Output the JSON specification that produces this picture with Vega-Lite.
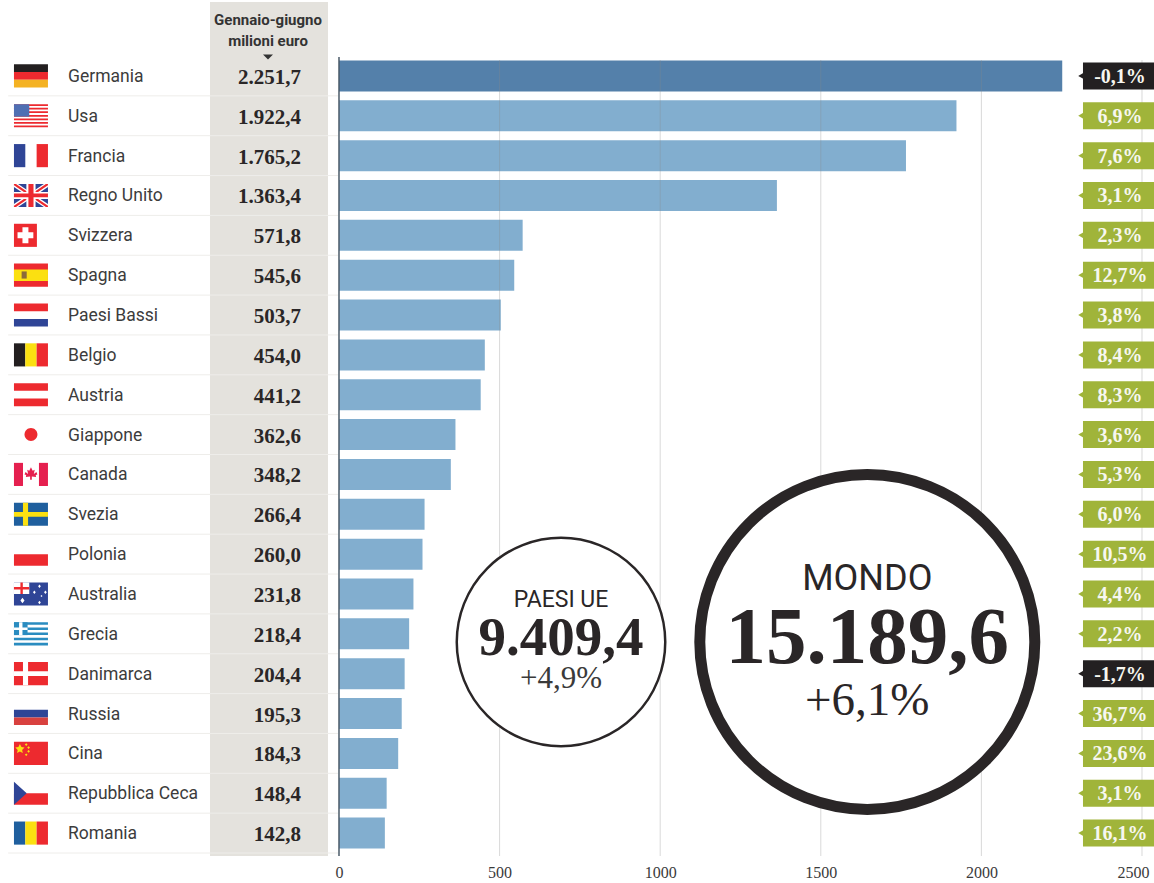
{
  "$schema": "https://vega.github.io/schema/vega-lite/v6.json",
  "width": 1154,
  "height": 856,
  "autosize": {"type": "none"},
  "padding": {"left": 0, "top": 0, "right": 0, "bottom": 27},
  "background": "#ffffff",
  "config": {
    "view": {"stroke": null},
    "locale": {"number": {"decimal": ",", "thousands": ".", "grouping": [3], "currency": ["", " €"], "minus": "-"}}
  },
  "datasets": {
    "countries": [
      {"country": "Germania", "value": 2251.7, "change": -0.001},
      {"country": "Usa", "value": 1922.4, "change": 0.069},
      {"country": "Francia", "value": 1765.2, "change": 0.076},
      {"country": "Regno Unito", "value": 1363.4, "change": 0.031},
      {"country": "Svizzera", "value": 571.8, "change": 0.023},
      {"country": "Spagna", "value": 545.6, "change": 0.127},
      {"country": "Paesi Bassi", "value": 503.7, "change": 0.038},
      {"country": "Belgio", "value": 454.0, "change": 0.084},
      {"country": "Austria", "value": 441.2, "change": 0.083},
      {"country": "Giappone", "value": 362.6, "change": 0.036},
      {"country": "Canada", "value": 348.2, "change": 0.053},
      {"country": "Svezia", "value": 266.4, "change": 0.06},
      {"country": "Polonia", "value": 260.0, "change": 0.105},
      {"country": "Australia", "value": 231.8, "change": 0.044},
      {"country": "Grecia", "value": 218.4, "change": 0.022},
      {"country": "Danimarca", "value": 204.4, "change": -0.017},
      {"country": "Russia", "value": 195.3, "change": 0.367},
      {"country": "Cina", "value": 184.3, "change": 0.236},
      {"country": "Repubblica Ceca", "value": 148.4, "change": 0.031},
      {"country": "Romania", "value": 142.8, "change": 0.161}
    ],
    "totals": [
      {"name": "PAESI UE", "total": 9409.4, "change": 0.049},
      {"name": "MONDO", "total": 15189.6, "change": 0.061}
    ],
    "ticks": [{"tick": 0}, {"tick": 500}, {"tick": 1000}, {"tick": 1500}, {"tick": 2000}, {"tick": 2500}],
    "flags": [
      {"country": "Germania", "part": "top", "tint": "black"},
      {"country": "Germania", "part": "mid", "tint": "red"},
      {"country": "Germania", "part": "bot", "tint": "gold"},
      {"country": "Usa", "part": "stripes13", "tint": "red"},
      {"country": "Usa", "part": "canton", "tint": "usblue"},
      {"country": "Francia", "part": "left", "tint": "navy"},
      {"country": "Francia", "part": "right", "tint": "red"},
      {"country": "Regno Unito", "part": "field", "tint": "navy"},
      {"country": "Regno Unito", "part": "saltire", "tint": "white"},
      {"country": "Regno Unito", "part": "saltirethin", "tint": "red"},
      {"country": "Regno Unito", "part": "cross", "tint": "white"},
      {"country": "Regno Unito", "part": "crossthin", "tint": "red"},
      {"country": "Svizzera", "part": "square", "tint": "red"},
      {"country": "Svizzera", "part": "swisscross", "tint": "white"},
      {"country": "Spagna", "part": "field", "tint": "red"},
      {"country": "Spagna", "part": "band", "tint": "yellow"},
      {"country": "Spagna", "part": "crest", "tint": "brown"},
      {"country": "Paesi Bassi", "part": "top", "tint": "red"},
      {"country": "Paesi Bassi", "part": "bot", "tint": "navy"},
      {"country": "Belgio", "part": "left", "tint": "black"},
      {"country": "Belgio", "part": "centre", "tint": "yellow"},
      {"country": "Belgio", "part": "right", "tint": "red"},
      {"country": "Austria", "part": "top", "tint": "red"},
      {"country": "Austria", "part": "bot", "tint": "red"},
      {"country": "Giappone", "part": "disc", "tint": "red"},
      {"country": "Canada", "part": "barleft", "tint": "crimson"},
      {"country": "Canada", "part": "barright", "tint": "crimson"},
      {"country": "Canada", "part": "leaf", "tint": "crimson"},
      {"country": "Svezia", "part": "field", "tint": "steel"},
      {"country": "Svezia", "part": "nordic", "tint": "yellow"},
      {"country": "Polonia", "part": "lowerhalf", "tint": "red"},
      {"country": "Australia", "part": "field", "tint": "navy"},
      {"country": "Australia", "part": "jackfield", "tint": "white"},
      {"country": "Australia", "part": "jackcross", "tint": "red"},
      {"country": "Australia", "part": "southerncross", "tint": "white"},
      {"country": "Grecia", "part": "stripes9", "tint": "aegean"},
      {"country": "Grecia", "part": "greekcanton", "tint": "aegean"},
      {"country": "Grecia", "part": "greekcross", "tint": "white"},
      {"country": "Danimarca", "part": "field", "tint": "red"},
      {"country": "Danimarca", "part": "nordic", "tint": "white"},
      {"country": "Russia", "part": "mid", "tint": "navy"},
      {"country": "Russia", "part": "bot", "tint": "brick"},
      {"country": "Cina", "part": "field", "tint": "red"},
      {"country": "Cina", "part": "stars", "tint": "yellow"},
      {"country": "Repubblica Ceca", "part": "lowerhalf", "tint": "red"},
      {"country": "Repubblica Ceca", "part": "hoist", "tint": "navy"},
      {"country": "Romania", "part": "left", "tint": "steel"},
      {"country": "Romania", "part": "centre", "tint": "yellow"},
      {"country": "Romania", "part": "right", "tint": "red"}
    ]
  },
  "data": {"name": "countries"},
  "resolve": {"scale": {"y": "independent"}},
  "layer": [
    {
      "data": {"values": [{"column": "Gennaio-giugno"}]},
      "mark": {"type": "rect", "color": "#e4e2dd"},
      "encoding": {
        "x": {"datum": -401.6, "type": "quantitative", "scale": {"domain": [-1055.4, 2537.4], "range": [0, 1154], "nice": false, "zero": false}},
        "x2": {"datum": -34.2},
        "y": {"datum": 0, "type": "quantitative", "scale": {"domain": [0, 1], "range": [856, 2]}, "axis": null},
        "y2": {"datum": 1}
      }
    },
    {
      "encoding": {
        "y": {
          "field": "country", "type": "nominal", "axis": null, "sort": null,
          "scale": {"type": "band", "paddingInner": 0, "paddingOuter": 0, "range": [56, 853], "domain": ["Germania", "Usa", "Francia", "Regno Unito", "Svizzera", "Spagna", "Paesi Bassi", "Belgio", "Austria", "Giappone", "Canada", "Svezia", "Polonia", "Australia", "Grecia", "Danimarca", "Russia", "Cina", "Repubblica Ceca", "Romania"]}
        }
      },
      "layer": [
        {
          "mark": {"type": "rule", "color": "#eeedea", "strokeWidth": 1},
          "encoding": {
            "y": {"field": "country", "type": "nominal", "bandPosition": 1},
            "x": {"datum": -1030},
            "x2": {"datum": -3}
          }
        },
        {
          "mark": {"type": "bar", "height": 31},
          "encoding": {
            "x": {"field": "value", "type": "quantitative", "stack": null},
            "color": {"condition": {"test": "datum.country === 'Germania'", "value": "#5480aa"}, "value": "#82aecf"}
          }
        }
      ]
    },
    {
      "data": {"name": "ticks"},
      "transform": [{"filter": "datum.tick > 0"}],
      "mark": {"type": "rule", "color": "#8a8a8a", "opacity": 0.32, "strokeWidth": 1},
      "encoding": {
        "x": {"field": "tick", "type": "quantitative"},
        "y": {"datum": 0.932, "type": "quantitative", "scale": {"domain": [0, 1], "range": [856, 2]}, "axis": null},
        "y2": {"datum": 0}
      }
    },
    {
      "data": {"name": "ticks"},
      "transform": [{"filter": "datum.tick === 0"}],
      "mark": {"type": "rule", "color": "#4a5a68", "strokeWidth": 1.5},
      "encoding": {
        "x": {
          "field": "tick",
          "type": "quantitative",
          "axis": {
            "values": [0, 500, 1000, 1500, 2000, 2500],
            "format": "d",
            "title": null,
            "grid": false,
            "domain": false,
            "ticks": false,
            "labelFont": "Liberation Serif",
            "labelFontSize": 16,
            "labelColor": "#3a3a3a",
            "labelPadding": 8,
            "labelOffset": {"condition": {"test": "datum.value === 2500", "value": -9}, "value": 0}
          }
        },
        "y": {"datum": 0.9356, "type": "quantitative", "scale": {"domain": [0, 1], "range": [856, 2]}, "axis": null},
        "y2": {"datum": 0}
      }
    },
    {
      "encoding": {
        "y": {
          "field": "country", "type": "nominal", "axis": null, "sort": null,
          "scale": {"type": "band", "paddingInner": 0, "paddingOuter": 0, "range": [56, 853], "domain": ["Germania", "Usa", "Francia", "Regno Unito", "Svizzera", "Spagna", "Paesi Bassi", "Belgio", "Austria", "Giappone", "Canada", "Svezia", "Polonia", "Australia", "Grecia", "Danimarca", "Russia", "Cina", "Repubblica Ceca", "Romania"]}
        }
      },
      "layer": [
        {
          "data": {"name": "flags"},
          "mark": {"type": "point", "filled": true, "opacity": 1, "size": 1156},
          "encoding": {
            "x": {"datum": -959},
            "color": {
              "field": "tint",
              "type": "nominal",
              "legend": null,
              "scale": {
                "domain": ["black", "red", "gold", "usblue", "navy", "white", "yellow", "brown", "crimson", "steel", "aegean", "brick"],
                "range": ["#231f20", "#ed2a2f", "#f4b223", "#4f6fb3", "#2f4596", "#ffffff", "#fbe011", "#8a6a3a", "#e5204f", "#1f5f9e", "#2a8cc0", "#d8413f"]
              }
            },
            "shape": {
              "field": "part",
              "type": "nominal",
              "legend": null,
              "scale": {
                "domain": ["top", "mid", "bot", "left", "centre", "right", "field", "stripes13", "canton", "saltire", "saltirethin", "cross", "crossthin", "square", "swisscross", "band", "crest", "disc", "barleft", "barright", "leaf", "nordic", "lowerhalf", "jackfield", "jackcross", "southerncross", "stripes9", "greekcanton", "greekcross", "stars", "hoist"],
                "range": [
                  "M-1,-.68H1V-.227H-1Z",
                  "M-1,-.227H1V.227H-1Z",
                  "M-1,.227H1V.68H-1Z",
                  "M-1,-.68H-.333V.68H-1Z",
                  "M-.333,-.68H.333V.68H-.333Z",
                  "M.333,-.68H1V.68H.333Z",
                  "M-1,-.68H1V.68H-1Z",
                  "M-1,-.68H1V-.575H-1ZM-1,-.471H1V-.366H-1ZM-1,-.262H1V-.157H-1ZM-1,-.052H1V.052H-1ZM-1,.157H1V.262H-1ZM-1,.366H1V.471H-1ZM-1,.575H1V.68H-1Z",
                  "M-1,-.68H-.1V.05H-1Z",
                  "M-1,-.68H-.76L1,.5V.68H.76L-1,-.5ZM1,-.68V-.5L-.76,.68H-1V.5L.76,-.68Z",
                  "M-1,-.68H-.88L1,.6V.68H.88L-1,-.6ZM1,-.68V-.6L-.88,.68H-1V.6L.88,-.68Z",
                  "M-.27,-.68H.27V-.2H1V.2H.27V.68H-.27V.2H-1V-.2H-.27Z",
                  "M-.15,-.68H.15V-.11H1V.11H.15V.68H-.15V.11H-1V-.11H-.15Z",
                  "M-1,-.68H.35V.68H-1Z",
                  "M-.5,-.47H-.15V-.175H.14V.175H-.15V.47H-.5V.175H-.79V-.175H-.5Z",
                  "M-1,-.34H1V.34H-1Z",
                  "M-.55,-.22H-.25V.2H-.55Z",
                  "M-.38,0A.38,.38 0 1,1 .38,0A.38,.38 0 1,1 -.38,0Z",
                  "M-1,-.68H-.47V.68H-1Z",
                  "M.47,-.68H1V.68H.47Z",
                  "M0,-.42L.1,-.22L.22,-.28L.17,-.02L.32,-.14L.38,0L.28,.03L.3,.15L.05,.12V.32H-.05V.12L-.3,.15L-.28,.03L-.38,0L-.32,-.14L-.17,-.02L-.22,-.28L-.1,-.22Z",
                  "M-.47,-.68H-.17V-.14H1V.14H-.17V.68H-.47V.14H-1V-.14H-.47Z",
                  "M-1,0H1V.68H-1Z",
                  "M-1,-.68H-.1V0H-1Z",
                  "M-.62,-.68H-.48V-.41H-.1V-.27H-.48V0H-.62V-.27H-1V-.41H-.62Z",
                  "M-.5,.22L-.38,.38L-.5,.54L-.62,.38ZM.5,-.55L.58,-.45L.5,-.35L.42,-.45ZM.85,-.2L.93,-.1L.85,0L.77,-.1ZM.2,-.2L.28,-.1L.2,0L.12,-.1ZM.5,.4L.58,.5L.5,.6L.42,.5ZM.62,.06L.68,.12L.62,.18L.56,.12Z",
                  "M-1,-.68H1V-.529H-1ZM-1,-.378H1V-.227H-1ZM-1,-.076H1V.076H-1ZM-1,.227H1V.378H-1ZM-1,.529H1V.68H-1Z",
                  "M-1,-.68H-.2V.076H-1Z",
                  "M-.7,-.68H-.5V-.378H-.2V-.227H-.5V.076H-.7V-.227H-1V-.378H-.7Z",
                  "M-.65,-.55L-.56,-.37L-.38,-.34L-.52,-.2L-.48,-.02L-.65,-.11L-.82,-.02L-.78,-.2L-.92,-.34L-.74,-.37ZM-.28,-.6L-.2,-.52L-.28,-.44L-.36,-.52ZM-.14,-.42L-.06,-.34L-.14,-.26L-.22,-.34ZM-.14,-.2L-.06,-.12L-.14,-.04L-.22,-.12ZM-.28,0L-.2,.08L-.28,.16L-.36,.08Z",
                  "M-1,-.68L-.25,0L-1,.68Z"
                ]
              }
            }
          }
        },
        {
          "mark": {"type": "text", "align": "left", "baseline": "middle", "font": "Roboto", "fontSize": 17.5, "color": "#3c3c3c", "dy": 1},
          "encoding": {"x": {"datum": -843.7}, "text": {"field": "country"}}
        },
        {
          "mark": {"type": "text", "align": "right", "baseline": "middle", "font": "Liberation Serif", "fontWeight": "bold", "fontSize": 21, "color": "#2a2627", "dy": 2},
          "encoding": {"x": {"datum": -118.3}, "text": {"field": "value", "type": "quantitative", "format": ",.1f"}}
        },
        {
          "mark": {"type": "point", "filled": true, "opacity": 1, "size": 40, "shape": "triangle-left"},
          "encoding": {
            "x": {"datum": 2310},
            "color": {"condition": {"test": "datum.change < 0", "value": "#232021"}, "value": "#a0b43a"}
          }
        },
        {
          "mark": {"type": "bar", "height": 27},
          "encoding": {
            "x": {"datum": 2316.3},
            "x2": {"datum": 2537.4},
            "color": {"condition": {"test": "datum.change < 0", "value": "#232021"}, "value": "#a0b43a"}
          }
        },
        {
          "mark": {"type": "text", "align": "center", "baseline": "middle", "font": "Liberation Serif", "fontWeight": "bold", "fontSize": 20, "color": "#f7f7f0", "dy": 1},
          "encoding": {"x": {"datum": 2431.5}, "text": {"field": "change", "type": "quantitative", "format": ".1%"}}
        }
      ]
    },
    {
      "data": {"values": [{"line": "Gennaio-giugno", "pos": 0.979}, {"line": "milioni euro", "pos": 0.9544}]},
      "mark": {"type": "text", "align": "center", "baseline": "middle", "font": "Roboto", "fontWeight": "bold", "fontSize": 15, "color": "#333333"},
      "encoding": {
        "x": {"datum": -221},
        "y": {"field": "pos", "type": "quantitative", "scale": {"domain": [0, 1], "range": [856, 2]}, "axis": null},
        "text": {"field": "line"}
      }
    },
    {
      "data": {"values": [{"marker": "sort"}]},
      "mark": {"type": "point", "filled": true, "opacity": 1, "size": 100, "color": "#333333", "shape": "M-1,-.5H1L0,.5Z"},
      "encoding": {
        "x": {"datum": -221},
        "y": {"datum": 0.9356, "type": "quantitative", "scale": {"domain": [0, 1], "range": [856, 2]}, "axis": null}
      }
    },
    {
      "data": {"name": "totals"},
      "transform": [{"filter": "datum.name === 'PAESI UE'"}],
      "mark": {"type": "circle", "fill": "#ffffff", "stroke": "#2a2627", "strokeWidth": 2.5, "size": 43472, "opacity": 1},
      "encoding": {"x": {"datum": 691.2}, "y": {"datum": 0.2506, "type": "quantitative", "scale": {"domain": [0, 1], "range": [856, 2]}, "axis": null}}
    },
    {
      "data": {"name": "totals"},
      "transform": [{"filter": "datum.name === 'MONDO'"}],
      "mark": {"type": "circle", "fill": "#ffffff", "stroke": "#2a2627", "strokeWidth": 11, "size": 112225, "opacity": 1},
      "encoding": {"x": {"datum": 1644.8}, "y": {"datum": 0.2506, "type": "quantitative", "scale": {"domain": [0, 1], "range": [856, 2]}, "axis": null}}
    },
    {
      "data": {"name": "totals"},
      "transform": [{"filter": "datum.name === 'PAESI UE'"}],
      "mark": {"type": "text", "align": "center", "baseline": "alphabetic", "font": "Roboto", "fontSize": 23, "color": "#2a2627"},
      "encoding": {"x": {"datum": 691.2}, "y": {"datum": 0.2916, "type": "quantitative", "scale": {"domain": [0, 1], "range": [856, 2]}, "axis": null}, "text": {"field": "name"}}
    },
    {
      "data": {"name": "totals"},
      "transform": [{"filter": "datum.name === 'PAESI UE'"}],
      "mark": {"type": "text", "align": "center", "baseline": "alphabetic", "font": "Liberation Serif", "fontWeight": "bold", "fontSize": 55, "color": "#2a2627"},
      "encoding": {"x": {"datum": 691.2}, "y": {"datum": 0.2354, "type": "quantitative", "scale": {"domain": [0, 1], "range": [856, 2]}, "axis": null}, "text": {"field": "total", "type": "quantitative", "format": ",.1f"}}
    },
    {
      "data": {"name": "totals"},
      "transform": [{"filter": "datum.name === 'PAESI UE'"}],
      "mark": {"type": "text", "align": "center", "baseline": "alphabetic", "font": "Liberation Serif", "fontSize": 31, "color": "#3a3a3a"},
      "encoding": {"x": {"datum": 691.2}, "y": {"datum": 0.1967, "type": "quantitative", "scale": {"domain": [0, 1], "range": [856, 2]}, "axis": null}, "text": {"field": "change", "type": "quantitative", "format": "+.1%"}}
    },
    {
      "data": {"name": "totals"},
      "transform": [{"filter": "datum.name === 'MONDO'"}],
      "mark": {"type": "text", "align": "center", "baseline": "alphabetic", "font": "Roboto", "fontSize": 36, "color": "#2a2627"},
      "encoding": {"x": {"datum": 1644.8}, "y": {"datum": 0.3115, "type": "quantitative", "scale": {"domain": [0, 1], "range": [856, 2]}, "axis": null}, "text": {"field": "name"}}
    },
    {
      "data": {"name": "totals"},
      "transform": [{"filter": "datum.name === 'MONDO'"}],
      "mark": {"type": "text", "align": "center", "baseline": "alphabetic", "font": "Liberation Serif", "fontWeight": "bold", "fontSize": 81, "color": "#2a2627"},
      "encoding": {"x": {"datum": 1644.8}, "y": {"datum": 0.226, "type": "quantitative", "scale": {"domain": [0, 1], "range": [856, 2]}, "axis": null}, "text": {"field": "total", "type": "quantitative", "format": ",.1f"}}
    },
    {
      "data": {"name": "totals"},
      "transform": [{"filter": "datum.name === 'MONDO'"}],
      "mark": {"type": "text", "align": "center", "baseline": "alphabetic", "font": "Liberation Serif", "fontSize": 47, "color": "#2a2627"},
      "encoding": {"x": {"datum": 1644.8}, "y": {"datum": 0.1651, "type": "quantitative", "scale": {"domain": [0, 1], "range": [856, 2]}, "axis": null}, "text": {"field": "change", "type": "quantitative", "format": "+.1%"}}
    }
  ]
}
